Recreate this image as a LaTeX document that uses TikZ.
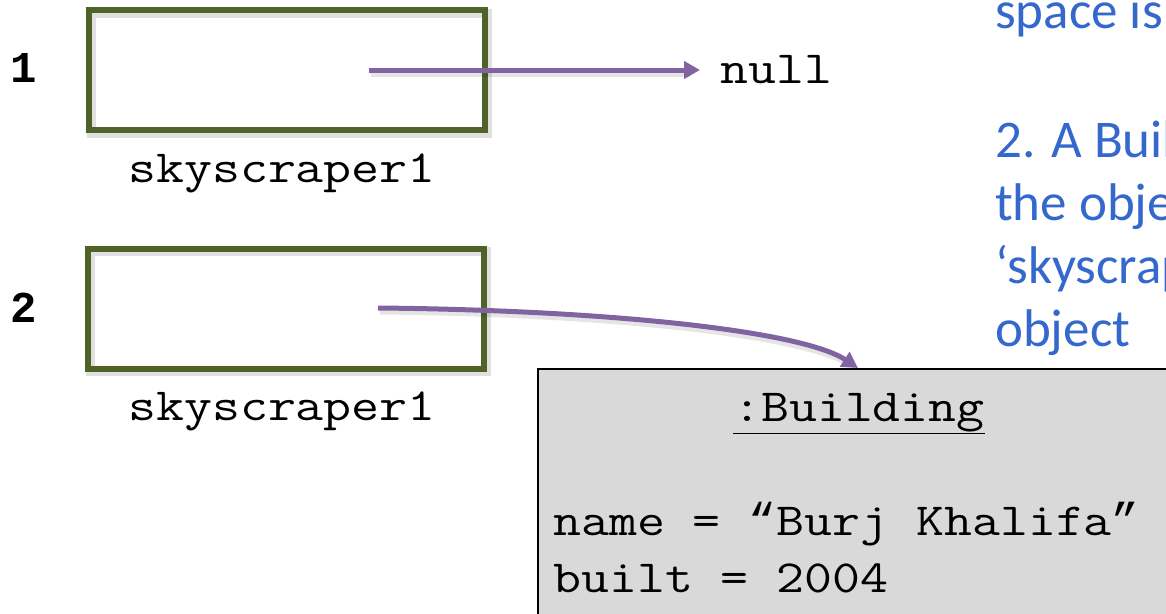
\documentclass[tikz,border=0pt]{standalone}
\usepackage{fontspec}
\setmonofont{Latin Modern Mono}[FakeStretch=1.18]
\newfontfamily\numfont{Liberation Mono}
\newfontfamily\calib{Carlito}
\usetikzlibrary{arrows.meta}
\definecolor{boxgreen}{RGB}{79,98,40}
\definecolor{refpurple}{RGB}{128,100,162}
\definecolor{noteblue}{RGB}{52,104,204}
\definecolor{objgray}{RGB}{217,217,217}
\newcommand{\oq}{{\numfont “}}
\newcommand{\cq}{{\numfont ”}}
\begin{document}
\begin{tikzpicture}[x=1pt,y=-1pt,
  varbox/.style={draw=boxgreen, line width=6pt, minimum width=396pt, minimum height=120pt, inner sep=0pt},
  boxshadow/.style={draw=black, draw opacity=0.12, line width=9pt, minimum width=396pt, minimum height=120pt, inner sep=0pt},
  mono/.style={font=\fontsize{46}{56}\selectfont\ttfamily, inner sep=0pt, anchor=base},
  refarrow/.style={draw=refpurple, line width=5pt, -{Triangle[length=16pt,width=17pt]}},
  arrowshadow/.style={draw=black, draw opacity=0.10, line width=7pt},
  note/.style={font=\fontsize{53}{63}\selectfont\calib, text=noteblue, inner sep=0pt, anchor=base west},
  num/.style={font=\fontsize{44}{50}\selectfont\numfont\bfseries, inner sep=0pt, anchor=base},
  objbox/.style={draw=black, fill=objgray, line width=1.5pt, anchor=north west, minimum width=700pt, minimum height=300pt}]
\useasboundingbox (0,0) rectangle (1166,613);
\clip (0,0) rectangle (1166,613);

% variable boxes
\node[boxshadow] (sh1) at (289,73) {};
\node[boxshadow] (sh2) at (288.5,311.5) {};
\node[varbox] (box1) at (287,70) {};
\node[varbox] (box2) at (286,308.5) {};
\node[num] (lab1) at (24,82) {1};
\node[num] (lab2) at (24,322) {2};
\node[mono] (var1) at (282,182) {skyscraper1};
\node[mono] (var2) at (282,420) {skyscraper1};

% null
\node[mono, anchor=base west] (null) at (720,83) {null};

% object
\node[objbox] (bld) at (537,368) {};
\node[mono] (cls) at (859,421) {\underline{:Building}};
\node[mono, anchor=base west] (attr1) at (553,535) {name = \oq Burj Khalifa\cq};
\node[mono, anchor=base west] (attr2) at (553,592) {built = 2004};

% notes
\node[note] (t0) at (995,28) {space is};
\node[note] (t1) at (995,157) {2. A Buil};
\node[note] (t2) at (995,220) {the obje};
\node[note] (t3) at (995,283) {‘skyscrap};
\node[note] (t4) at (995,346) {object};

% references
\coordinate (s1) at (369,70);
\coordinate (s1s) at (371,73);
\draw[arrowshadow] (s1s) -- (690,73);
\draw[refarrow, shorten >=20pt] (s1) -- (s1 -| null.west);
\coordinate (s2) at (378,308);
\coordinate (e2) at (858,368);
\draw[arrowshadow] (380,311) .. controls (600,313) and (800,333) .. (850,364);
\draw[refarrow] (s2) .. controls (600,310) and (800,330) .. (e2);
\end{tikzpicture}
\end{document}
